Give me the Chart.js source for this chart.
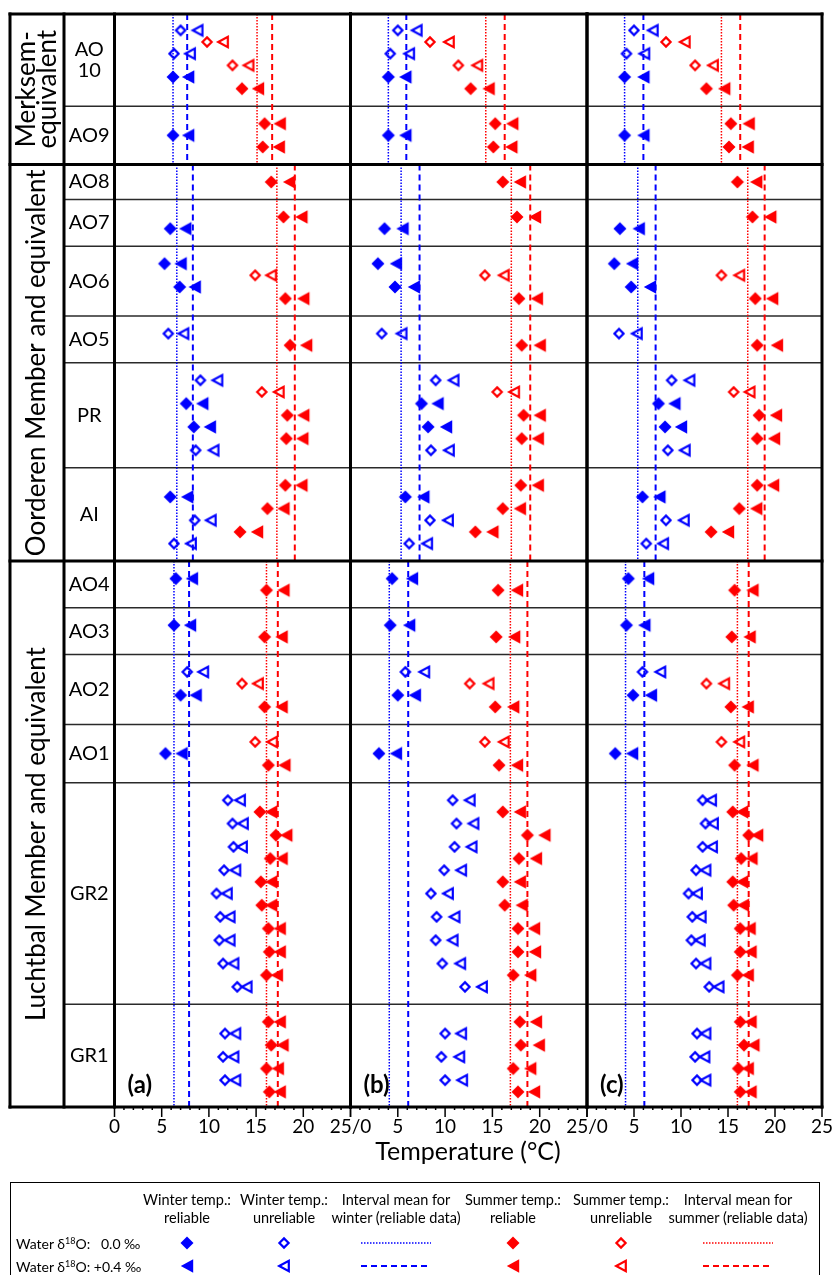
<!DOCTYPE html>
<html>
<head>
<meta charset="utf-8">
<script src="https://cdn.jsdelivr.net/npm/chart.js@4.4.0/dist/chart.umd.min.js"></script>
<style>
  html, body { margin: 0; padding: 0; background: #fff; }
  #wrap { position: relative; width: 834px; height: 1275px; overflow: hidden; font-family: Lato, 'Open Sans', sans-serif; color: #000; }
  #wrap canvas.panel { position: absolute; left: 0; top: 0; }
  #legend { position: absolute; left: 10px; top: 1182px; width: 810px; height: 130px; border: 1.5px solid #000; box-sizing: border-box; }
  .lg { position: absolute; transform: translate(-50%, -50%); white-space: nowrap; font-size: 14.5px; line-height: 1; }
  .lgRow { position: absolute; left: 5px; transform: translateY(-50%); white-space: pre; font-size: 14px; line-height: 1; }
  .lgRow sup { font-size: 9px; vertical-align: 5px; }
  .lgMark { position: absolute; transform: translate(-50%, -50%); }
</style>
</head>
<body>
<div id="wrap">
  <canvas class="panel" id="panelA" width="834" height="1180"></canvas>
  <canvas class="panel" id="panelB" width="834" height="1180"></canvas>
  <canvas class="panel" id="panelC" width="834" height="1180"></canvas>
  <div id="legend"></div>
</div>
<script>
// rows (stratigraphic intervals), counted in sample slots from the top
const rowLabels = ['AO\n10', 'AO9', 'AO8', 'AO7', 'AO6', 'AO5', 'PR', 'AI', 'AO4', 'AO3', 'AO2', 'AO1', 'GR2', 'GR1'];
const rowEdges = [-0.4, 7.5, 12.5, 15.5, 19.5, 25.5, 29.5, 38.5, 46.5, 50.5, 54.5, 60.5, 65.5, 84.5, 93.3];
const groupLabels = ['Merksem-\nequivalent', 'Oorderen Member and equivalent', 'Luchtbal Member and equivalent'];
const groupEdges = [-0.4, 12.5, 46.5, 93.3];

// samples: slot, season (W = winter, S = summer), reliable (1) or not (0)
const samplePos = [1, 2, 3, 4, 5, 6, 9, 10, 11, 14, 17, 18, 21, 22, 23, 24, 27, 28,
  31, 32, 33, 34, 35, 36, 37, 40, 41, 42, 43, 44, 45, 48, 49, 52, 53, 56, 57, 58, 59, 62, 63, 64,
  67, 68, 69, 70, 71, 72, 73, 74, 75, 76, 77, 78, 79, 80, 81, 82, 83, 86, 87, 88, 89, 90, 91, 92];
const sampleSeason = ['W', 'S', 'W', 'S', 'W', 'S', 'S', 'W', 'S', 'S', 'S', 'W', 'W', 'S', 'W', 'S', 'W', 'S',
  'W', 'S', 'W', 'S', 'W', 'S', 'W', 'S', 'W', 'S', 'W', 'S', 'W', 'W', 'S', 'W', 'S', 'W', 'S', 'W', 'S', 'S', 'W', 'S',
  'W', 'S', 'W', 'S', 'W', 'S', 'W', 'S', 'W', 'S', 'W', 'S', 'W', 'S', 'W', 'S', 'W', 'S', 'W', 'S', 'W', 'S', 'W', 'S'];
const sampleReliable = [0, 0, 0, 0, 1, 1, 1, 1, 1, 1, 1, 1, 1, 0, 1, 1, 0, 1,
  0, 0, 1, 1, 1, 1, 0, 1, 1, 1, 0, 1, 0, 1, 1, 1, 1, 0, 0, 1, 1, 0, 1, 1,
  0, 1, 0, 1, 0, 1, 0, 1, 0, 1, 0, 1, 0, 1, 0, 1, 0, 1, 0, 1, 0, 1, 0, 1];

// temperatures (°C) with water d18O 0.0 permil (t0) and +0.4 permil (t4)
const tempA0 = [7.0, 9.8, 6.3, 12.5, 6.2, 13.5, 15.9, 6.2, 15.7, 16.6, 17.9, 5.9, 5.3, 14.9, 6.9, 18.1, 5.7, 18.6,
  9.1, 15.6, 7.6, 18.3, 8.4, 18.2, 8.6, 18.1, 5.9, 16.2, 8.5, 13.3, 6.3, 6.5, 16.1, 6.3, 15.9, 7.7, 13.5, 7.0, 15.9, 14.9, 5.4, 16.3,
  12.0, 15.4, 12.5, 17.1, 12.6, 16.5, 11.6, 15.5, 10.8, 15.6, 11.2, 16.3, 11.1, 16.4, 11.5, 16.1, 13.0, 16.3, 11.7, 16.6, 11.5, 16.1, 11.7, 16.4];
const tempA4 = [8.8, 11.5, 8.0, 14.2, 7.8, 15.2, 17.5, 7.8, 17.4, 18.5, 19.8, 7.5, 7.0, 16.6, 8.5, 20.0, 7.3, 20.3,
  10.9, 17.4, 9.3, 20.0, 10.1, 19.9, 10.5, 19.8, 7.7, 17.9, 10.2, 15.1, 8.1, 8.2, 17.9, 8.0, 17.7, 9.4, 15.2, 8.6, 17.7, 16.7, 7.1, 18.0,
  13.3, 16.6, 13.6, 18.2, 13.5, 17.7, 12.8, 16.6, 11.9, 16.6, 12.2, 17.5, 12.2, 17.5, 12.6, 17.2, 14.0, 17.5, 12.8, 17.8, 12.6, 17.3, 12.8, 17.5];
const tempB0 = [5.0, 8.4, 4.2, 11.4, 4.0, 12.7, 15.3, 4.0, 15.1, 16.1, 17.6, 3.6, 2.9, 14.2, 4.7, 17.8, 3.3, 18.1,
  9.0, 15.5, 7.5, 18.3, 8.2, 18.1, 8.5, 18.0, 5.8, 16.1, 8.4, 13.2, 6.2, 4.4, 15.6, 4.2, 15.4, 5.8, 12.6, 5.0, 15.3, 14.2, 3.0, 15.7,
  10.8, 16.1, 11.2, 18.7, 11.0, 17.8, 9.9, 16.1, 8.5, 16.3, 9.1, 17.7, 9.0, 17.7, 9.7, 17.2, 12.1, 17.9, 10.0, 18.0, 9.6, 17.2, 10.0, 17.7];
const tempB4 = [7.0, 10.4, 6.2, 13.4, 5.8, 14.6, 17.1, 5.8, 17.0, 17.9, 19.5, 5.5, 4.8, 16.2, 6.7, 19.7, 5.4, 20.0,
  10.9, 17.3, 9.2, 20.0, 10.1, 19.8, 10.4, 19.8, 7.7, 17.9, 10.3, 15.0, 8.1, 6.5, 17.6, 6.2, 17.3, 7.8, 14.6, 6.8, 17.2, 16.2, 4.8, 17.6,
  12.6, 17.9, 13.0, 20.5, 12.8, 19.6, 11.7, 17.9, 10.3, 18.1, 11.0, 19.4, 10.8, 19.5, 11.6, 19.0, 13.9, 19.6, 11.7, 19.9, 11.5, 19.0, 11.8, 19.4];
const tempC0 = [5.0, 8.4, 4.2, 11.5, 4.0, 12.7, 15.3, 4.0, 15.1, 16.0, 17.6, 3.5, 2.9, 14.3, 4.7, 17.9, 3.4, 18.1,
  9.0, 15.6, 7.6, 18.3, 8.3, 18.1, 8.6, 18.1, 5.9, 16.2, 8.4, 13.2, 6.3, 4.4, 15.7, 4.2, 15.4, 5.9, 12.7, 4.9, 15.3, 14.3, 3.0, 15.7,
  12.3, 15.5, 12.6, 17.2, 12.3, 16.4, 11.6, 15.5, 10.8, 15.6, 11.2, 16.3, 11.1, 16.3, 11.6, 16.0, 13.0, 16.3, 11.7, 16.7, 11.5, 16.1, 11.7, 16.3];
const tempC4 = [7.0, 10.4, 6.1, 13.4, 6.0, 14.6, 17.2, 6.0, 17.1, 18.0, 19.5, 5.5, 4.8, 16.2, 6.7, 19.7, 5.3, 20.2,
  10.9, 17.3, 9.3, 20.1, 10.0, 19.9, 10.4, 19.8, 7.7, 18.0, 10.3, 15.0, 8.1, 6.5, 17.6, 6.1, 17.3, 7.8, 14.6, 6.8, 17.1, 16.2, 4.8, 17.6,
  13.2, 16.5, 13.4, 18.1, 13.3, 17.5, 12.6, 16.5, 11.7, 16.6, 12.1, 17.3, 12.0, 17.4, 12.6, 17.1, 14.0, 17.4, 12.6, 17.7, 12.5, 17.1, 12.6, 17.4];

// interval means per group: [winter 0.0, winter +0.4, summer 0.0, summer +0.4]
const meanA = [[6.2, 7.7, 15.1, 16.7], [6.6, 8.3, 17.2, 19.1], [6.3, 7.9, 16.1, 17.3]];
const meanB = [[4.0, 5.9, 14.3, 16.3], [5.35, 7.3, 17.0, 19.0], [4.1, 6.1, 16.9, 18.7]];
const meanC = [[4.0, 6.0, 14.3, 16.3], [5.4, 7.3, 17.1, 18.9], [4.1, 6.1, 16.0, 17.2]];

const xTicks = [0, 5, 10, 15, 20, 25];
const tickLabelsA = ['0', '5', '10', '15', '20', '25/0'];
const tickLabelsB = ['', '5', '10', '15', '20', '25/0'];
const tickLabelsC = ['', '5', '10', '15', '20', '25'];

const BLUE = '#0000ff';
const RED = '#ff0000';
const FONT = 'Lato, "Open Sans", sans-serif';
const OUTER_LEFT = 10;
const COL_SPLIT = 64;
const PLOT_TOP = 14;
const PLOT_BOTTOM = 1107;

function makeMarker(shape, color, filled) {
  const c = document.createElement('canvas');
  c.width = 18; c.height = 18;
  const g = c.getContext('2d');
  g.translate(9, 9);
  g.beginPath();
  if (shape === 'diamond') {
    const h = filled ? 6.5 : 4.6;
    g.moveTo(0, -h); g.lineTo(h, 0); g.lineTo(0, h); g.lineTo(-h, 0); g.closePath();
  } else {
    const w = filled ? 6.2 : 4.8, hh = filled ? 6.8 : 5.2;
    g.moveTo(-w, 0); g.lineTo(w, -hh); g.lineTo(w, hh); g.closePath();
  }
  if (filled) { g.fillStyle = color; g.fill(); }
  else { g.strokeStyle = color; g.lineWidth = 2.2; g.stroke(); }
  return c;
}

const markers = {};
[['W', BLUE], ['S', RED]].forEach(([s, col]) => {
  [1, 0].forEach(rel => {
    markers[s + rel + 'diamond'] = makeMarker('diamond', col, rel === 1);
    markers[s + rel + 'triangle'] = makeMarker('triangle', col, rel === 1);
  });
});

function markerSets(t0, t4) {
  const sets = [];
  ['W', 'S'].forEach(season => {
    [1, 0].forEach(rel => {
      [[t0, 'diamond'], [t4, 'triangle']].forEach(([arr, shape]) => {
        const data = [];
        samplePos.forEach((p, i) => {
          if (sampleSeason[i] === season && sampleReliable[i] === rel) data.push({ x: arr[i], y: p });
        });
        sets.push({ data, pointStyle: markers[season + rel + shape], pointRadius: 7, showLine: false, order: 0 });
      });
    });
  });
  return sets;
}

function meanSets(means) {
  const sets = [];
  means.forEach((m, g) => {
    m.forEach((v, k) => {
      sets.push({
        data: [{ x: v, y: groupEdges[g] }, { x: v, y: groupEdges[g + 1] }],
        showLine: true, pointRadius: 0, order: 1,
        borderColor: k < 2 ? BLUE : RED,
        borderWidth: k % 2 ? 2 : 1.5,
        borderDash: k % 2 ? [6, 4] : [1.5, 1.5]
      });
    });
  });
  return sets;
}

function seg(ctx, x1, y1, x2, y2) {
  ctx.beginPath(); ctx.moveTo(x1, y1); ctx.lineTo(x2, y2); ctx.stroke();
}

const framePlugin = {
  id: 'frame',
  beforeDatasetsDraw(chart, args, o) {
    const { ctx, chartArea: a } = chart;
    const y = chart.scales.y;
    ctx.save();
    ctx.strokeStyle = '#2a2a2a';
    ctx.lineWidth = 1.5;
    rowEdges.forEach(v => {
      if (groupEdges.includes(v)) return;
      const py = y.getPixelForValue(v);
      seg(ctx, o.withLabels ? COL_SPLIT : a.left, py, a.right, py);
    });
    ctx.restore();
  },
  afterDatasetsDraw(chart, args, o) {
    const { ctx, chartArea: a } = chart;
    const x = chart.scales.x, y = chart.scales.y;
    const left = o.withLabels ? OUTER_LEFT : a.left;
    ctx.save();
    ctx.strokeStyle = '#000';
    ctx.lineCap = 'square';
    ctx.lineWidth = 3;
    groupEdges.forEach(v => { const py = y.getPixelForValue(v); seg(ctx, left, py, a.right, py); });
    [a.left, a.right].forEach(px => seg(ctx, px, a.top, px, a.bottom));
    if (o.withLabels) [OUTER_LEFT, COL_SPLIT].forEach(px => seg(ctx, px, a.top, px, a.bottom));

    // x axis ticks
    ctx.lineCap = 'butt';
    ctx.lineWidth = 1.5;
    for (let v = 0; v <= 25; v++) {
      const px = x.getPixelForValue(v);
      seg(ctx, px, a.bottom, px, a.bottom + (v % 5 === 0 ? 10 : 3));
    }
    ctx.fillStyle = '#000';
    ctx.textAlign = 'center';
    ctx.textBaseline = 'middle';
    ctx.font = '19px ' + FONT;
    xTicks.forEach((v, i) => {
      if (o.tickLabels[i]) ctx.fillText(o.tickLabels[i], x.getPixelForValue(v), a.bottom + 20);
    });

    // panel tag
    ctx.font = 'bold 24px ' + FONT;
    ctx.textAlign = 'left';
    ctx.fillText(o.tag, a.left + 13, a.bottom - 22);

    if (o.withLabels) {
      ctx.textAlign = 'center';
      ctx.font = '20px ' + FONT;
      const rx = (COL_SPLIT + a.left) / 2;
      rowLabels.forEach((lab, i) => {
        const cy = (y.getPixelForValue(rowEdges[i]) + y.getPixelForValue(rowEdges[i + 1])) / 2;
        const lines = lab.split('\n');
        lines.forEach((t, k) => ctx.fillText(t, rx, cy + (k - (lines.length - 1) / 2) * 21));
      });
      ctx.font = '26px ' + FONT;
      const gx = (OUTER_LEFT + COL_SPLIT) / 2;
      groupLabels.forEach((lab, i) => {
        const cy = (y.getPixelForValue(groupEdges[i]) + y.getPixelForValue(groupEdges[i + 1])) / 2;
        const lines = lab.split('\n');
        ctx.save();
        ctx.translate(gx, cy);
        ctx.rotate(-Math.PI / 2);
        lines.forEach((t, k) => ctx.fillText(t, 0, (k - (lines.length - 1) / 2) * 21));
        ctx.restore();
      });
      ctx.font = '25px ' + FONT;
      ctx.fillText('Temperature (°C)', 468, a.bottom + 45);
    }
    ctx.restore();
  }
};

function buildChart(id, t0, t4, means, tickLabels, tag, withLabels, span) {
  return new Chart(document.getElementById(id), {
    type: 'scatter',
    data: { datasets: [...markerSets(t0, t4), ...meanSets(means)] },
    options: {
      responsive: false,
      animation: false,
      events: [],
      layout: { padding: { left: span[0], right: 834 - span[1], top: PLOT_TOP, bottom: 1180 - PLOT_BOTTOM } },
      plugins: {
        legend: { display: false },
        tooltip: { enabled: false },
        frame: { tickLabels, tag, withLabels }
      },
      scales: {
        x: { type: 'linear', min: 0, max: 25, display: false },
        y: { type: 'linear', min: -0.4, max: 93.3, reverse: true, display: false }
      }
    },
    plugins: [framePlugin]
  });
}

buildChart('panelA', tempA0, tempA4, meanA, tickLabelsA, '(a)', true, [114.5, 350.5]);
buildChart('panelB', tempB0, tempB4, meanB, tickLabelsB, '(b)', false, [350.5, 587]);
buildChart('panelC', tempC0, tempC4, meanC, tickLabelsC, '(c)', false, [587, 822]);

// legend below the panels
const legendX = [186, 283, 395, 512, 620, 737];
const legendHeads = [['Winter temp.:', 'reliable'], ['Winter temp.:', 'unreliable'],
  ['Interval mean for', 'winter (reliable data)'], ['Summer temp.:', 'reliable'],
  ['Summer temp.:', 'unreliable'], ['Interval mean for', 'summer (reliable data)']];
const legendRows = ['Water δ<sup>18</sup>O:   0.0 ‰', 'Water δ<sup>18</sup>O: +0.4 ‰'];

const legend = document.getElementById('legend');
const LX = OUTER_LEFT, LY = 1182;
function place(el, cx, cy) { el.style.left = (cx - LX) + 'px'; el.style.top = (cy - LY) + 'px'; legend.appendChild(el); }
legendHeads.forEach((h, i) => {
  h.forEach((t, k) => {
    const d = document.createElement('div');
    d.className = 'lg'; d.textContent = t;
    place(d, legendX[i], 1199 + k * 18);
  });
});
const rowY = [1242, 1265];
legendRows.forEach((t, r) => {
  const d = document.createElement('div');
  d.className = 'lgRow'; d.innerHTML = t;
  d.style.top = (rowY[r] - LY) + 'px';
  legend.appendChild(d);
});
[['W', 0], ['W', 1], null, ['S', 0], ['S', 1], null].forEach((spec, i) => {
  rowY.forEach((yy, r) => {
    if (spec) {
      const rel = spec[1] === 0 ? 1 : 0;
      const img = document.createElement('img');
      img.className = 'lgMark';
      img.src = markers[spec[0] + rel + (r === 0 ? 'diamond' : 'triangle')].toDataURL();
      place(img, legendX[i], yy);
    } else {
      const col = i < 3 ? BLUE : RED;
      const svg = document.createElementNS('http://www.w3.org/2000/svg', 'svg');
      svg.setAttribute('width', '70'); svg.setAttribute('height', '6');
      svg.setAttribute('class', 'lgMark');
      const ln = document.createElementNS('http://www.w3.org/2000/svg', 'line');
      ln.setAttribute('x1', '0'); ln.setAttribute('x2', '70'); ln.setAttribute('y1', '3'); ln.setAttribute('y2', '3');
      ln.setAttribute('stroke', col);
      ln.setAttribute('stroke-width', r === 0 ? '1.5' : '2');
      ln.setAttribute('stroke-dasharray', r === 0 ? '1.5 1.5' : '6 4');
      svg.appendChild(ln);
      place(svg, legendX[i], yy);
    }
  });
});
</script>
</body>
</html>
